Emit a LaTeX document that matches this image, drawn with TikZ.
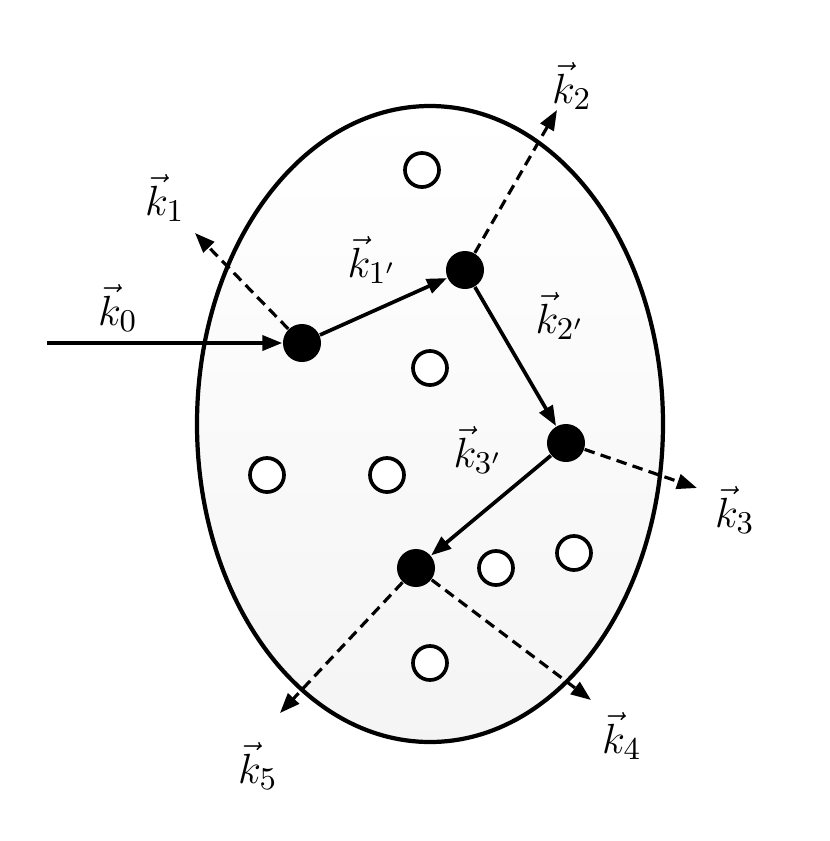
\documentclass[tikz,border=0pt]{standalone}
\usetikzlibrary{arrows.meta}
\begin{document}
\begin{tikzpicture}[x=0.01cm,y=-0.01cm,
 hole/.style={circle,draw=black,line width=1.05pt,fill=white,inner sep=0pt,minimum size=0.34cm},
 blk/.style={circle,fill=black,minimum size=0.38cm,inner sep=0pt},
 sol/.style={line width=1.05pt,-{Triangle[length=0.2cm,width=0.15cm]}},
 dsh/.style={line width=0.9pt,dash pattern=on 3pt off 1.8pt,-{Triangle[length=0.2cm,width=0.15cm]}},
 lab/.style={font=\fontsize{13}{15}\selectfont}]
\useasboundingbox (0,0) rectangle (830,841);
\shade[top color=white,bottom color=blue!5!gray!8] (430,424) ellipse [x radius=233, y radius=-318];
\draw[line width=1.2pt] (430,424) ellipse [x radius=233, y radius=-318];
\foreach \p [count=\i] in {(422,170),(430,368),(267,475),(387,475),(496,568),(574,553),(430,663)}
  \node[hole] (h\i) at \p {};
\node[blk] (A) at (302,343) {};
\node[blk] (B) at (465,270) {};
\node[blk] (C) at (566,443) {};
\node[blk] (D) at (416,568) {};
\coordinate (in) at (47,343);
\coordinate (e1) at (195,233);
\coordinate (e2) at (557,110);
\coordinate (e3) at (697,488);
\coordinate (e4) at (591,700);
\coordinate (e5) at (280,713);
\draw[sol] (in) -- (A);
\draw[sol] (A) -- (B);
\draw[sol] (B) -- (C);
\draw[sol] (C) -- (D);
\draw[dsh] (A) -- (e1);
\draw[dsh] (B) -- (e2);
\draw[dsh] (C) -- (e3);
\draw[dsh] (D) -- (e4);
\draw[dsh] (D) -- (e5);
\node[lab] (l0) at (118,308) {$\vec{k}_{0}$};
\node[lab] (l1) at (165,198) {$\vec{k}_{1}$};
\node[lab] (l1p) at (372,260) {$\vec{k}_{1'}$};
\node[lab] (l2) at (572,86) {$\vec{k}_{2}$};
\node[lab] (l2p) at (560,316) {$\vec{k}_{2'}$};
\node[lab] (l3p) at (478,450) {$\vec{k}_{3'}$};
\node[lab] (l3) at (735,510) {$\vec{k}_{3}$};
\node[lab] (l4) at (622,736) {$\vec{k}_{4}$};
\node[lab] (l5) at (258,766) {$\vec{k}_{5}$};
\end{tikzpicture}
\end{document}
